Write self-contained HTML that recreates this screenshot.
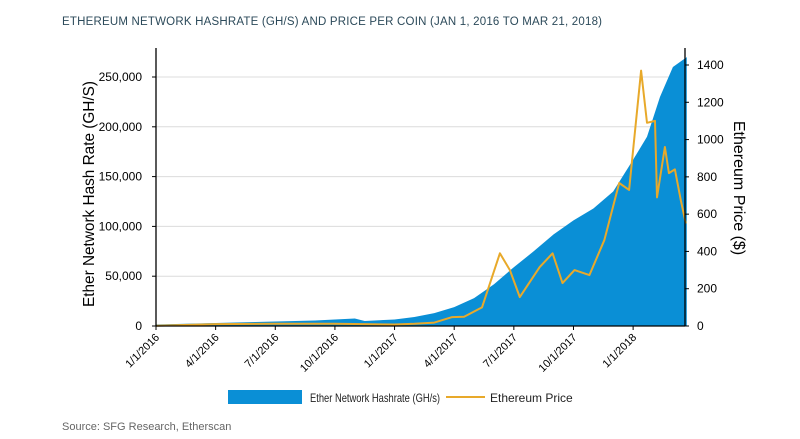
<!DOCTYPE html>
<html><head><meta charset="utf-8"><style>
body{margin:0;background:#fff;}
svg{display:block;font-family:"Liberation Sans",sans-serif;}
</style></head><body>
<svg id="chart" width="800" height="439" viewBox="0 0 800 439">
<text x="62" y="25" font-size="11.5" fill="#2c4a5a" letter-spacing="0.2">ETHEREUM NETWORK HASHRATE (GH/S) AND PRICE PER COIN (JAN 1, 2016 TO MAR 21, 2018)</text>
<g id="grid"></g>
<g id="area"></g>
<g id="line"></g>
<g id="axes"></g>
<text transform="translate(94,194) rotate(-90)" text-anchor="middle" font-size="16" textLength="226" lengthAdjust="spacingAndGlyphs" fill="#000">Ether Network Hash Rate (GH/S)</text>
<text transform="translate(734,188) rotate(90)" text-anchor="middle" font-size="16" fill="#000">Ethereum Price ($)</text>
<g>
<rect x="228" y="390" width="74" height="14" fill="#0a8fd6"/>
<text x="310" y="402" font-size="12" textLength="130" lengthAdjust="spacingAndGlyphs" fill="#222">Ether Network Hashrate (GH/s)</text>
<line x1="446" y1="397" x2="485" y2="397" stroke="#e8a92a" stroke-width="2"/>
<text x="490" y="402" font-size="12" fill="#222">Ethereum Price</text>
</g>
<text x="62" y="430" font-size="11" fill="#666">Source: SFG Research, Etherscan</text>
</svg>
<script>
const hashMonths=[0,1,2,3,4,5,6,7,8,9,10,10.5,11,12,13,14,15,16,17,18,19,20,21,22,23,24,24.7,25.35,26,26.7];
const hashValues=[1500,2000,2500,3000,3500,4000,4500,5000,5500,6500,7500,5000,5500,6500,9000,13000,19000,28000,42000,59000,75000,92000,106000,118000,135000,167000,190000,230000,260000,270000];
const priceMonths=[0,3,6,9,12,13,14,14.9,15.5,16.4,17.3,17.8,18.3,19.3,19.95,20.45,21.05,21.8,22.55,23.3,23.8,24.4,24.7,25.1,25.2,25.6,25.8,26.1,26.4,26.65];
const priceValues=[1,10,12,12,8,12,18,48,50,100,390,300,155,316,390,230,300,273,460,767,730,1370,1090,1100,690,960,820,840,675,550];
const leftTicks=[0,50000,100000,150000,200000,250000];
const leftTickLabels=["0","50,000","100,000","150,000","200,000","250,000"];
const rightTicks=[0,200,400,600,800,1000,1200,1400];
const xTickMonths=[0,3,6,9,12,15,18,21,24];
const xTickLabels=["1/1/2016","4/1/2016","7/1/2016","10/1/2016","1/1/2017","4/1/2017","7/1/2017","10/1/2017","1/1/2018"];
const NS="http://www.w3.org/2000/svg";
const X0=156,X1=685,Y0=326,YT=48;
const x=m=>X0+m*19.88;
const yL=v=>Y0-v/250000*249;
const yR=v=>Y0-v/1400*261;
function mk(tag,attrs,parent){const e=document.createElementNS(NS,tag);for(const k in attrs)e.setAttribute(k,attrs[k]);document.getElementById(parent).appendChild(e);return e;}
leftTicks.forEach((v,i)=>{
  if(v>0){const g=mk('line',{x1:X0,x2:X1,y1:yL(v),y2:yL(v),stroke:'#dcdcdc','stroke-width':1},'grid');
  
  }
  const t=mk('line',{x1:X0-4,x2:X0,y1:yL(v),y2:yL(v),stroke:'#000'},'axes');
  
  
  const l=mk('text',{x:X0-14,y:yL(v)+4,'text-anchor':'end','font-size':12,fill:'#000'},'axes');
  l.textContent=leftTickLabels[i];
  
  
});
rightTicks.forEach(v=>{
  const t=mk('line',{x1:X1,x2:X1+4,y1:yR(v),y2:yR(v),stroke:'#000'},'axes');
  
  
  const l=mk('text',{x:X1+12,y:yR(v)+4,'font-size':12,fill:'#000'},'axes');
  l.textContent=v;
  
  
});
xTickMonths.forEach((m,i)=>{
  const t=mk('line',{x1:x(m),x2:x(m),y1:Y0,y2:Y0+4,stroke:'#000'},'axes');
  
  
  const l=mk('text',{transform:`translate(${x(m)+4},${Y0+12}) rotate(-45)`,'text-anchor':'end','font-size':11,fill:'#000'},'axes');
  l.textContent=xTickLabels[i];
  
  
});
let d=`M${x(hashMonths[0])},${Y0}`;
hashMonths.forEach((m,i)=>{d+=` L${x(m).toFixed(1)},${yL(hashValues[i]).toFixed(1)}`;});
d+=` L${x(hashMonths[hashMonths.length-1]).toFixed(1)},${Y0} Z`;
const a=mk('path',{d:d,fill:'#0a8fd6'},'area');


const pd=priceMonths.map((m,i)=>(i?'L':'M')+x(m).toFixed(1)+','+yR(priceValues[i]).toFixed(1)).join(' ');
const p=mk('path',{d:pd,fill:'none',stroke:'#e8a92a','stroke-width':2,'stroke-linejoin':'round'},'line');


[[X0,YT,X0,Y0],[X1,YT,X1,Y0],[X0,Y0,X1,Y0]].forEach(c=>{
  const l=mk('line',{x1:c[0],y1:c[1],x2:c[2],y2:c[3],stroke:'#000','stroke-width':1.3},'axes');
  
  
});
</script>
</body></html>
